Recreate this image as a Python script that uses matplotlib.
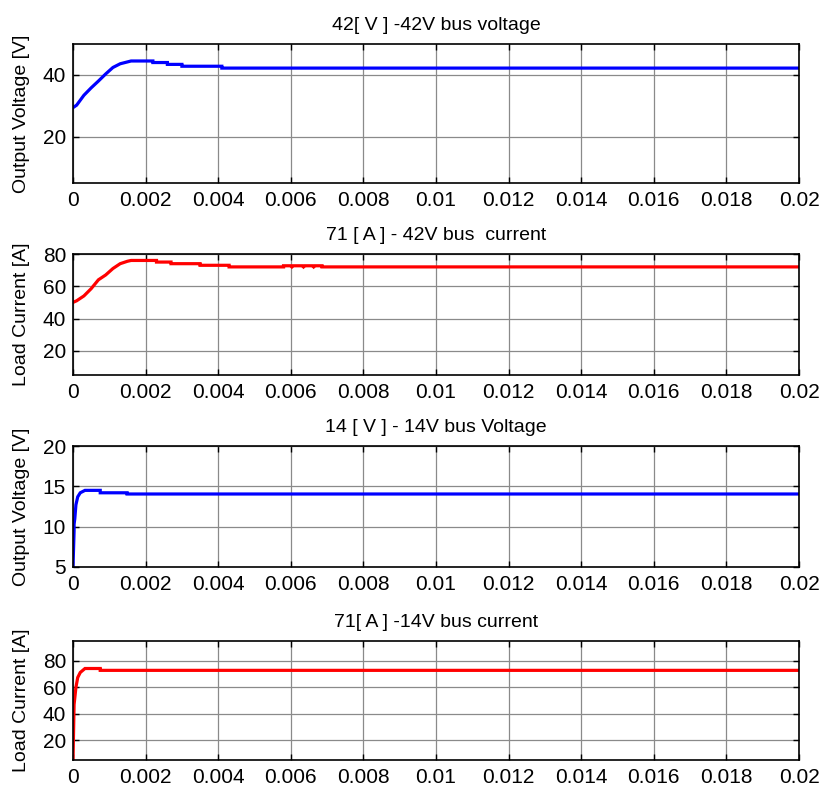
import numpy as np
import matplotlib
matplotlib.use("Agg")
import matplotlib.pyplot as plt

plt.rcParams['font.family'] = ['Liberation Sans', 'DejaVu Sans']

# 42V bus voltage
t_v42 = [0, 0.0001, 0.0003, 0.0005, 0.0007, 0.0009, 0.0011, 0.0013, 0.0015, 0.0016,
         0.0022, 0.0022, 0.0026, 0.0026, 0.0030, 0.0030, 0.0041, 0.0041, 0.02]
v42 = [29.4, 30.2, 33.4, 35.8, 38.0, 40.3, 42.4, 43.6, 44.2, 44.5,
       44.5, 44.0, 44.0, 43.4, 43.4, 42.8, 42.8, 42.2, 42.2]

# 42V bus current
t_i42 = [0, 0.0001, 0.0003, 0.0005, 0.0007, 0.0009, 0.0011, 0.0013, 0.0015, 0.0016,
         0.0023, 0.0023, 0.0027, 0.0027, 0.0035, 0.0035, 0.0043, 0.0043,
         0.0058, 0.0058, 0.00600, 0.00603, 0.00606, 0.00632, 0.00635, 0.00638,
         0.00660, 0.00663, 0.00666, 0.00686, 0.00686, 0.02]
i42 = [50.0, 51.0, 54.0, 58.5, 64.0, 67.0, 71.0, 74.0, 75.5, 76.0,
       76.0, 75.0, 75.0, 74.0, 74.0, 73.0, 73.0, 72.0,
       72.0, 72.7, 72.7, 72.0, 72.7, 72.7, 72.0, 72.7,
       72.7, 72.0, 72.7, 72.7, 72.0, 72.0]

# 14V bus voltage
t_v14 = [0, 0.00003, 0.00003, 0.00005, 0.00008, 0.00013, 0.0002, 0.00033,
         0.00075, 0.00075, 0.00149, 0.00149, 0.02]
v14 = [5.0, 9.5, 10.3, 11.0, 12.7, 13.7, 14.2, 14.5,
       14.5, 14.2, 14.2, 14.05, 14.05]

# 14V bus current
t_i14 = [0, 0.00003, 0.00005, 0.00008, 0.00013, 0.0002, 0.00033,
         0.00075, 0.00075, 0.02]
i14 = [5.0, 47.0, 52.0, 59.8, 67.4, 71.2, 74.2,
       74.2, 72.8, 72.8]

x_ticks = [0, 0.002, 0.004, 0.006, 0.008, 0.01, 0.012, 0.014, 0.016, 0.018, 0.02]
x_labels = ['0', '0.002', '0.004', '0.006', '0.008', '0.01', '0.012',
            '0.014', '0.016', '0.018', '0.02']

titles = ['42[ V ] -42V bus voltage', '71 [ A ] - 42V bus  current',
          '14 [ V ] - 14V bus Voltage', '71[ A ] -14V bus current']
ylabels = ['Output Voltage [V]', 'Load Current [A]',
           'Output Voltage [V]', 'Load Current [A]']
yticks = [[20, 40], [20, 40, 60, 80], [5, 10, 15, 20], [20, 40, 60, 80]]
ylims = [(5, 50), (5, 80), (5, 20), (5, 95)]
series = [(t_v42, v42, 'blue'), (t_i42, i42, 'red'),
          (t_v14, v14, 'blue'), (t_i14, i14, 'red')]

fig = plt.figure(figsize=(8.22, 7.86), dpi=100)
W, H = 822, 786
left, right = 73, 799
boxes = [(44, 183), (254, 375), (446, 567), (641, 760)]

for k, (top, bot) in enumerate(boxes):
    ax = fig.add_axes([left / W, 1 - bot / H, (right - left) / W, (bot - top) / H])
    t, y, c = series[k]
    ax.plot(t, y, color=c, lw=2.3, solid_joinstyle='miter')
    ax.set_xlim(0, 0.02)
    ax.set_ylim(*ylims[k])
    ax.set_xticks(x_ticks)
    ax.set_xticklabels(x_labels)
    ax.set_yticks(yticks[k])
    ax.grid(True, color='#8a8a8a', lw=0.9)
    ax.set_axisbelow(True)
    ax.tick_params(direction='in', length=4.5, width=1, top=True, right=True,
                   labelsize=15, pad=5.5)
    ax.tick_params(axis='y', pad=5)
    for s in ax.spines.values():
        s.set_linewidth(1.2)
    ax.set_title(titles[k], fontsize=14, pad=10)
    ax.set_ylabel(ylabels[k], fontsize=14)
    ax.yaxis.set_label_coords(-0.059, 0.5)

fig.savefig('out.png', dpi=100)
